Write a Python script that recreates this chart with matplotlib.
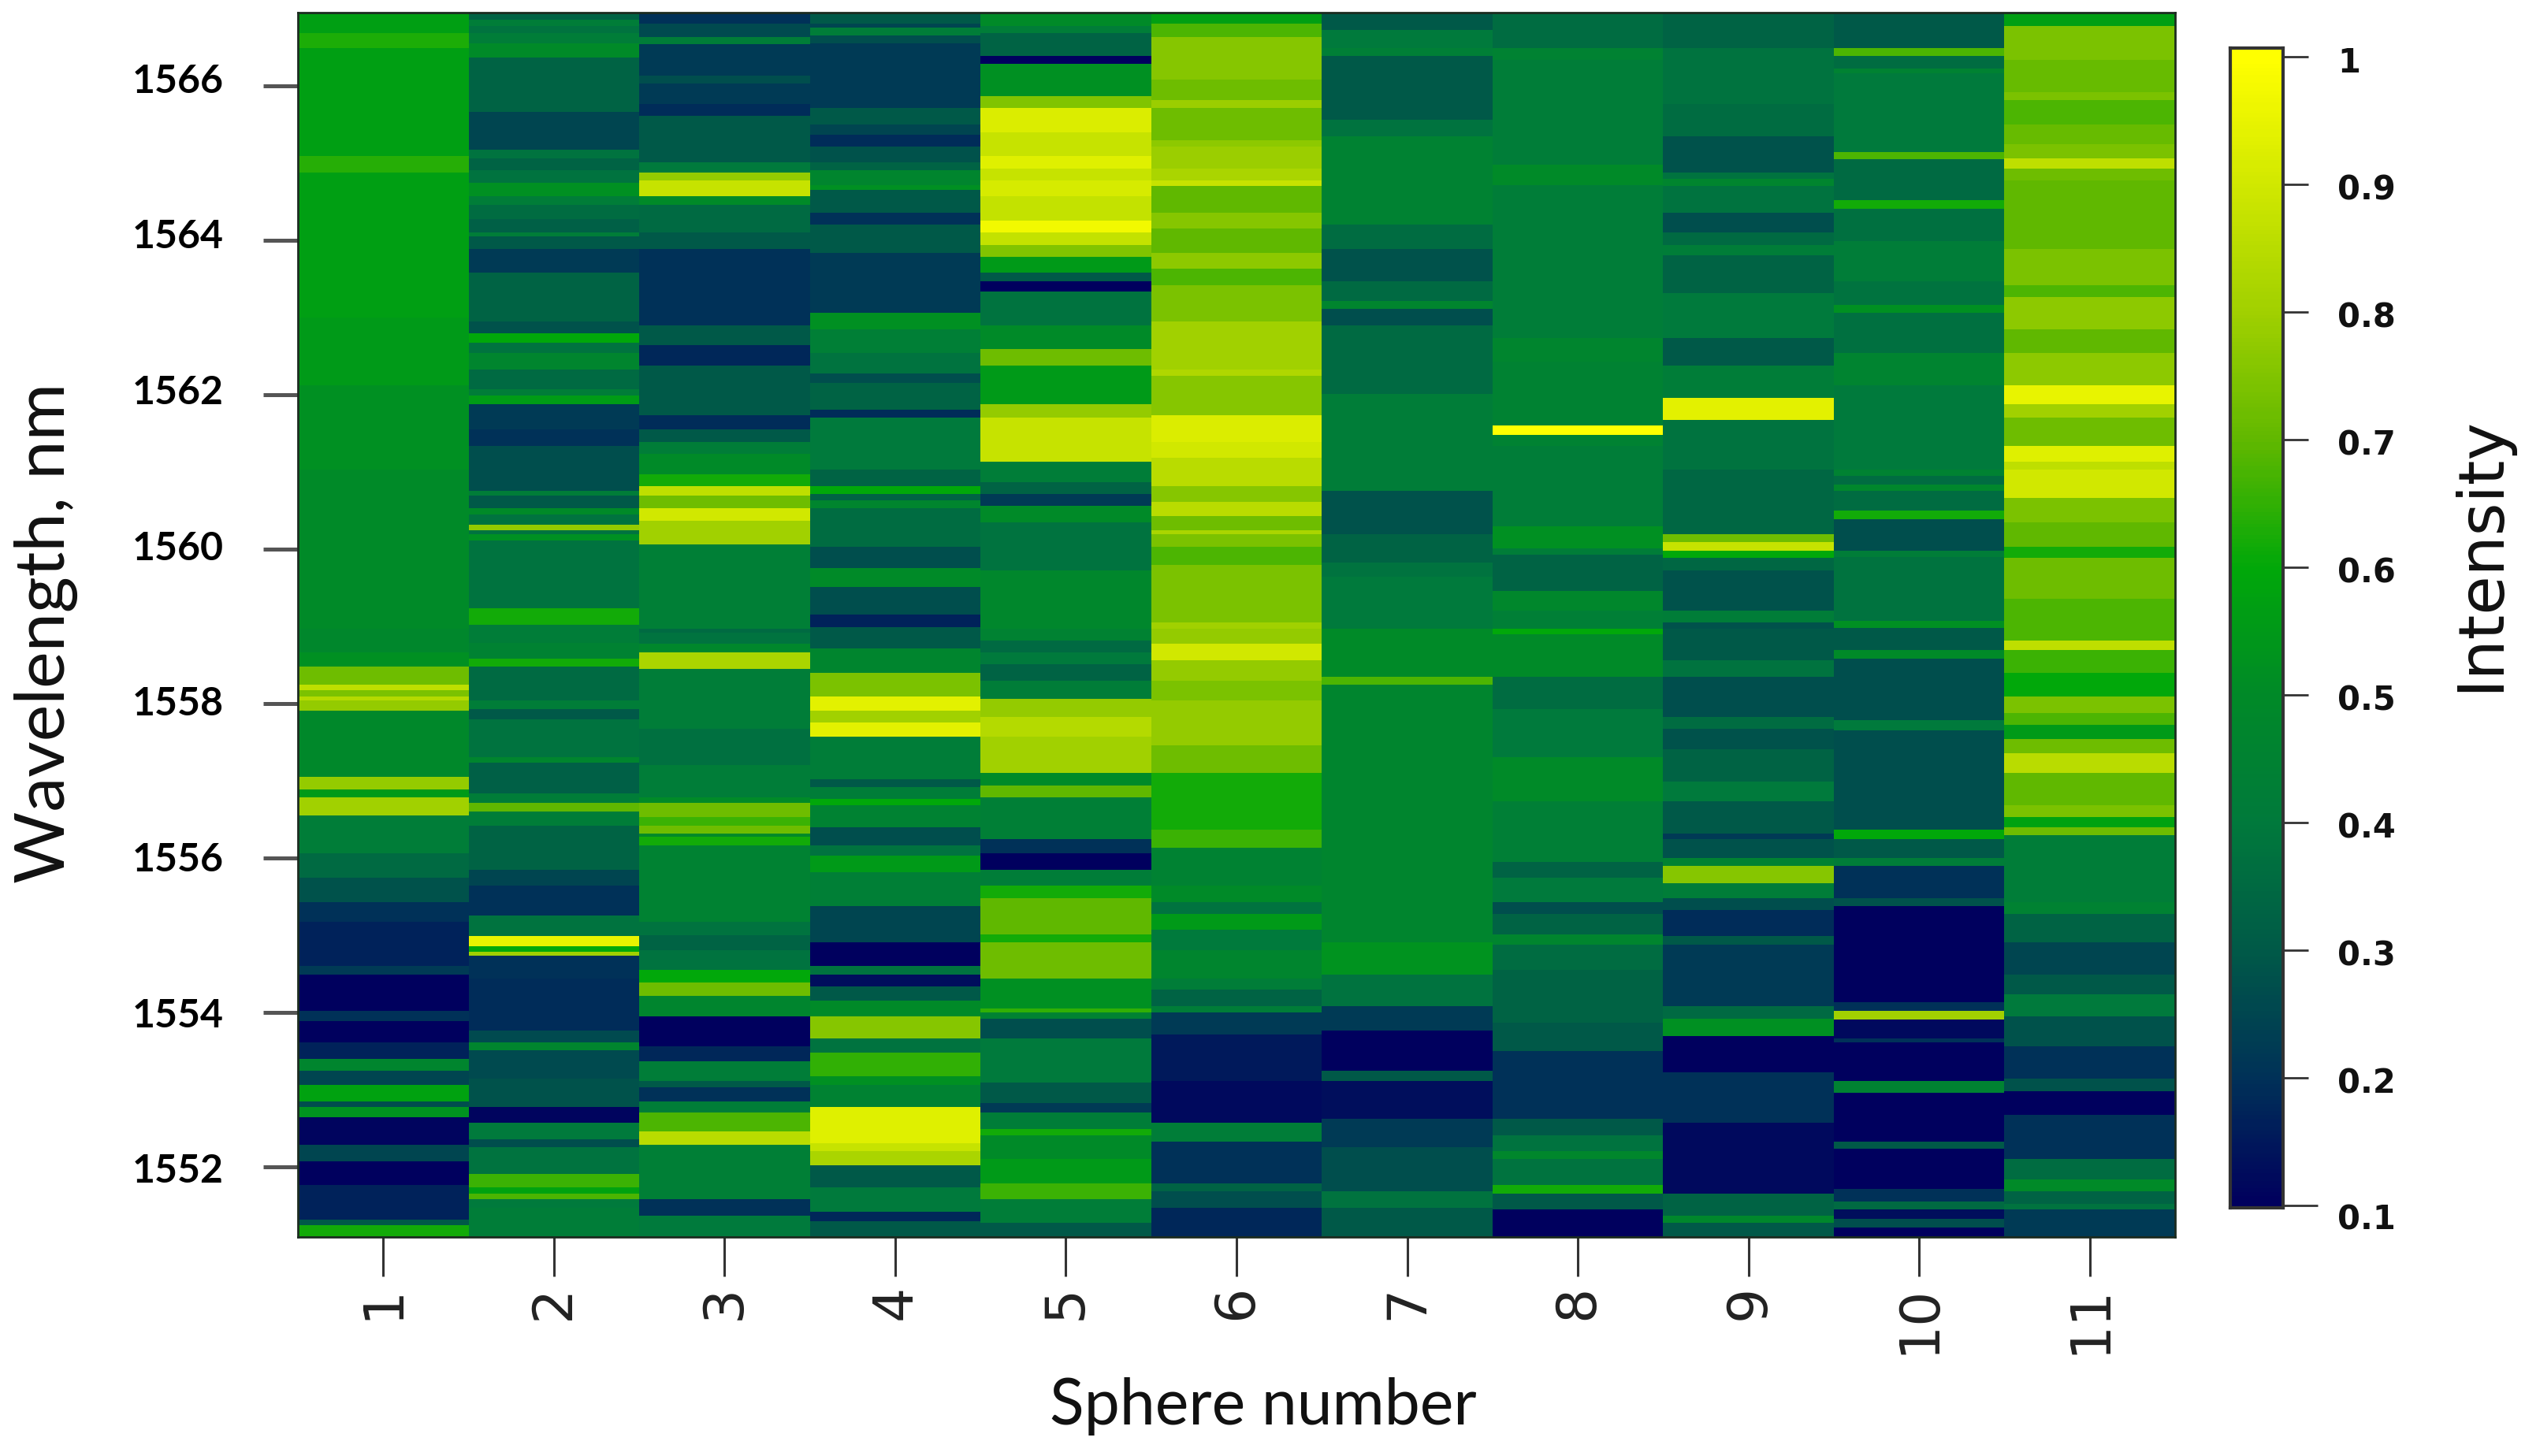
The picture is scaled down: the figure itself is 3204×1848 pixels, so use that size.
import numpy as np
from matplotlib import pyplot as plt
from matplotlib.colors import LinearSegmentedColormap, Normalize
from matplotlib.transforms import ScaledTranslation

# each sphere: (wavelength where the band starts going down, intensity)
s1 = [(1566.95, .57), (1566.68, .63), (1566.49, .57), (1565.09, .64), (1564.88, .57), (1563.0, .55), (1562.12, .52),
      (1561.03, .50), (1558.97, .48), (1558.66, .52), (1558.48, .72), (1558.24, .86), (1558.17, .74), (1558.09, .84),
      (1558.04, .78), (1557.91, .49), (1557.05, .78), (1556.89, .55), (1556.79, .8), (1556.55, .42), (1556.06, .35),
      (1555.74, .28), (1555.43, .2), (1555.17, .17), (1554.60, .22), (1554.49, .1), (1554.02, .2), (1553.89, .1),
      (1553.61, .17), (1553.40, .47), (1553.24, .25), (1553.06, .58), (1552.85, .27), (1552.77, .53), (1552.64, .11),
      (1552.28, .25), (1552.07, .1), (1551.76, .17), (1551.31, .3), (1551.24, .62)]
s2 = [(1566.95, .33), (1566.86, .42), (1566.78, .38), (1566.68, .42), (1566.55, .5), (1566.37, .33), (1565.66, .25),
      (1565.17, .38), (1565.06, .33), (1564.91, .38), (1564.75, .52), (1564.57, .42), (1564.46, .36), (1564.28, .32),
      (1564.10, .42), (1564.05, .3), (1563.89, .22), (1563.58, .33), (1562.95, .28), (1562.80, .6), (1562.67, .38),
      (1562.54, .47), (1562.33, .35), (1562.07, .42), (1561.99, .56), (1561.88, .22), (1561.55, .2), (1561.34, .27),
      (1560.76, .42), (1560.69, .3), (1560.53, .5), (1560.45, .38), (1560.32, .78), (1560.24, .38), (1560.19, .52),
      (1560.11, .38), (1559.23, .62), (1559.02, .42), (1558.79, .45), (1558.58, .62), (1558.48, .35), (1558.04, .42),
      (1557.93, .3), (1557.80, .38), (1557.31, .47), (1557.23, .32), (1556.84, .42), (1556.71, .7), (1556.60, .42),
      (1556.42, .33), (1555.85, .25), (1555.64, .2), (1555.25, .38), (1554.99, .95), (1554.86, .6), (1554.78, .8),
      (1554.73, .2), (1554.44, .19), (1553.76, .26), (1553.61, .47), (1553.51, .26), (1553.14, .28), (1552.77, .11),
      (1552.57, .4), (1552.36, .27), (1552.25, .38), (1551.91, .66), (1551.73, .58), (1551.65, .68), (1551.58, .4),
      (1551.47, .42)]
s3 = [(1566.95, .2), (1566.81, .26), (1566.63, .42), (1566.54, .22), (1566.13, .27), (1566.03, .22), (1565.77, .19),
      (1565.61, .3), (1565.01, .4), (1564.88, .78), (1564.78, .88), (1564.57, .5), (1564.46, .35), (1564.10, .3),
      (1563.89, .2), (1562.90, .3), (1562.64, .18), (1562.38, .3), (1561.73, .19), (1561.55, .3), (1561.39, .42),
      (1561.23, .5), (1560.97, .62), (1560.82, .86), (1560.69, .72), (1560.53, .9), (1560.37, .8), (1560.06, .43),
      (1558.97, .35), (1558.92, .38), (1558.77, .48), (1558.66, .82), (1558.45, .42), (1557.67, .37), (1557.20, .42),
      (1556.79, .5), (1556.71, .72), (1556.53, .66), (1556.42, .72), (1556.32, .5), (1556.27, .62), (1556.16, .45),
      (1555.17, .38), (1555.0, .33), (1554.81, .38), (1554.55, .6), (1554.39, .72), (1554.21, .47), (1553.95, .1),
      (1553.56, .18), (1553.37, .42), (1553.11, .3), (1553.03, .2), (1552.85, .42), (1552.70, .68), (1552.46, .85),
      (1552.28, .43), (1551.58, .2), (1551.37, .4)]
s4 = [(1566.95, .3), (1566.81, .25), (1566.76, .42), (1566.65, .27), (1566.55, .22), (1565.71, .3), (1565.50, .25),
      (1565.37, .19), (1565.22, .28), (1565.01, .33), (1564.91, .47), (1564.72, .52), (1564.65, .3), (1564.36, .2),
      (1564.20, .3), (1563.84, .22), (1563.06, .52), (1562.85, .43), (1562.54, .38), (1562.28, .27), (1562.15, .33),
      (1561.81, .19), (1561.70, .4), (1561.03, .33), (1560.82, .6), (1560.71, .33), (1560.63, .47), (1560.53, .36),
      (1560.03, .27), (1559.75, .5), (1559.51, .27), (1559.15, .17), (1558.99, .3), (1558.71, .47), (1558.40, .74),
      (1558.09, .94), (1557.91, .8), (1557.75, .94), (1557.57, .42), (1557.02, .3), (1556.92, .42), (1556.76, .6),
      (1556.68, .45), (1556.40, .27), (1556.16, .38), (1556.03, .55), (1555.82, .43), (1555.38, .25), (1554.91, .1),
      (1554.60, .38), (1554.49, .13), (1554.34, .3), (1554.15, .5), (1553.95, .76), (1553.66, .38), (1553.48, .65),
      (1553.17, .52), (1553.06, .45), (1552.77, .93), (1552.30, .88), (1552.20, .82), (1552.02, .3), (1551.73, .4),
      (1551.42, .18), (1551.29, .3)]
s5 = [(1566.95, .5), (1566.78, .42), (1566.68, .33), (1566.39, .1), (1566.29, .52), (1565.87, .75), (1565.71, .92),
      (1565.40, .88), (1565.09, .93), (1564.93, .88), (1564.78, .91), (1564.57, .87), (1564.26, .97), (1564.10, .87),
      (1563.94, .75), (1563.79, .55), (1563.58, .3), (1563.47, .1), (1563.34, .38), (1562.90, .5), (1562.59, .72),
      (1562.38, .55), (1561.88, .78), (1561.70, .88), (1561.13, .42), (1560.87, .33), (1560.71, .22), (1560.56, .5),
      (1560.35, .38), (1559.72, .48), (1558.97, .45), (1558.82, .35), (1558.66, .4), (1558.51, .33), (1558.30, .42),
      (1558.06, .78), (1557.83, .84), (1557.57, .8), (1557.10, .5), (1556.94, .7), (1556.79, .43), (1556.24, .2),
      (1556.06, .1), (1555.85, .42), (1555.64, .62), (1555.48, .7), (1555.01, .62), (1554.91, .72), (1554.44, .52),
      (1554.05, .65), (1554.0, .45), (1553.92, .27), (1553.66, .4), (1553.09, .3), (1552.83, .22), (1552.70, .42),
      (1552.49, .62), (1552.41, .5), (1552.10, .55), (1551.78, .66), (1551.58, .42), (1551.27, .3)]
s6 = [(1566.95, .57), (1566.81, .68), (1566.63, .76), (1566.08, .72), (1565.82, .79), (1565.71, .72), (1565.30, .77),
      (1565.22, .79), (1564.93, .82), (1564.78, .88), (1564.70, .7), (1564.36, .76), (1564.15, .7), (1563.84, .77),
      (1563.63, .68), (1563.42, .74), (1562.95, .8), (1562.33, .83), (1562.25, .76), (1561.73, .92), (1561.39, .9),
      (1561.18, .85), (1560.82, .76), (1560.61, .85), (1560.43, .72), (1560.24, .82), (1560.19, .74), (1560.03, .68),
      (1559.80, .74), (1559.05, .8), (1558.97, .78), (1558.77, .9), (1558.56, .78), (1558.30, .74), (1558.04, .78),
      (1557.46, .72), (1557.10, .62), (1556.37, .66), (1556.13, .45), (1555.64, .5), (1555.43, .38), (1555.27, .55),
      (1555.07, .4), (1554.81, .47), (1554.44, .42), (1554.29, .33), (1554.08, .42), (1554.0, .22), (1553.71, .15),
      (1553.11, .12), (1552.57, .42), (1552.33, .2), (1551.78, .33), (1551.68, .27), (1551.47, .18)]
s7 = [(1566.95, .3), (1566.73, .4), (1566.49, .43), (1566.39, .3), (1565.56, .38), (1565.35, .45), (1564.20, .36),
      (1563.89, .28), (1563.47, .35), (1563.21, .47), (1563.11, .27), (1562.90, .35), (1562.01, .42), (1560.76, .28),
      (1560.19, .33), (1559.83, .38), (1559.64, .4), (1558.97, .5), (1558.35, .68), (1558.24, .47), (1554.91, .53),
      (1554.49, .38), (1554.08, .22), (1553.76, .1), (1553.24, .3), (1553.11, .13), (1552.62, .22), (1552.25, .27),
      (1551.68, .38), (1551.47, .3)]
s8 = [(1566.95, .36), (1566.49, .45), (1566.34, .42), (1564.98, .5), (1564.72, .42), (1562.74, .47), (1562.43, .45),
      (1561.60, 1.0), (1561.48, .45), (1561.34, .42), (1560.30, .52), (1560.01, .42), (1559.93, .33), (1559.46, .48),
      (1559.20, .43), (1558.97, .6), (1558.90, .5), (1558.35, .36), (1557.93, .4), (1557.31, .5), (1556.73, .43),
      (1555.95, .33), (1555.74, .4), (1555.43, .27), (1555.27, .33), (1555.01, .47), (1554.88, .36), (1554.55, .33),
      (1553.87, .3), (1553.50, .2), (1552.62, .3), (1552.41, .38), (1552.20, .48), (1552.10, .38), (1551.76, .62),
      (1551.65, .3), (1551.45, .1)]
s9 = [(1566.95, .33), (1566.49, .38), (1565.77, .36), (1565.35, .28), (1564.88, .38), (1564.80, .47), (1564.70, .38),
      (1564.36, .27), (1564.10, .35), (1563.94, .42), (1563.81, .33), (1563.32, .4), (1562.74, .3), (1562.38, .42),
      (1561.96, .94), (1561.67, .38), (1561.03, .34), (1560.19, .72), (1560.09, .88), (1559.98, .6), (1559.89, .34),
      (1559.72, .28), (1559.20, .42), (1559.05, .28), (1558.97, .3), (1558.56, .38), (1558.35, .27), (1557.83, .36),
      (1557.67, .28), (1557.41, .33), (1556.99, .4), (1556.73, .3), (1556.32, .22), (1556.24, .28), (1556.0, .45),
      (1555.90, .76), (1555.67, .42), (1555.48, .27), (1555.33, .19), (1554.99, .3), (1554.88, .22), (1554.08, .35),
      (1553.92, .52), (1553.69, .1), (1553.22, .2), (1552.57, .12), (1551.65, .33), (1551.37, .48), (1551.27, .3)]
s10 = [(1566.95, .3), (1566.49, .68), (1566.39, .36), (1566.23, .45), (1566.16, .4), (1565.14, .68), (1565.05, .35),
       (1564.52, .62), (1564.41, .37), (1563.99, .42), (1563.47, .38), (1563.16, .52), (1563.06, .37), (1562.54, .46),
       (1562.12, .4), (1561.03, .45), (1560.95, .36), (1560.84, .48), (1560.76, .36), (1560.50, .62), (1560.39, .27),
       (1559.98, .42), (1559.90, .38), (1559.07, .52), (1558.98, .3), (1558.69, .5), (1558.58, .27), (1557.78, .4),
       (1557.65, .27), (1556.37, .6), (1556.24, .3), (1556.0, .42), (1555.90, .2), (1555.48, .28), (1555.38, .1),
       (1554.13, .2), (1554.02, .8), (1553.91, .12), (1553.66, .2), (1553.61, .08), (1553.11, .45), (1552.96, .1),
       (1552.33, .3), (1552.23, .1), (1551.71, .2), (1551.55, .35), (1551.45, .13), (1551.32, .27), (1551.21, .1)]
s11 = [(1566.95, .57), (1566.78, .74), (1566.34, .71), (1565.92, .74), (1565.82, .68), (1565.50, .71), (1565.25, .74),
       (1565.06, .86), (1564.93, .72), (1564.78, .7), (1563.89, .74), (1563.42, .68), (1563.27, .77), (1562.85, .7),
       (1562.54, .77), (1562.12, .95), (1561.88, .8), (1561.70, .72), (1561.34, .93), (1561.13, .86), (1561.03, .9),
       (1560.66, .74), (1560.35, .7), (1560.03, .62), (1559.89, .72), (1559.36, .68), (1558.82, .86), (1558.69, .66),
       (1558.40, .6), (1558.09, .74), (1557.88, .68), (1557.72, .55), (1557.54, .72), (1557.36, .85), (1557.10, .7),
       (1556.68, .74), (1556.53, .58), (1556.40, .72), (1556.29, .42), (1555.43, .45), (1555.27, .33), (1554.91, .25),
       (1554.49, .3), (1554.23, .4), (1553.95, .28), (1553.56, .2), (1553.14, .28), (1552.98, .1), (1552.67, .2),
       (1552.10, .36), (1551.84, .5), (1551.68, .33), (1551.52, .38), (1551.45, .22)]
spheres = [s1, s2, s3, s4, s5, s6, s7, s8, s9, s10, s11]

wl_bottom = 1551.09
wl_top = 1566.95
y_ticks = [1552, 1554, 1556, 1558, 1560, 1562, 1564, 1566]
bar_ticks = [0.1, 0.2, 0.3, 0.4, 0.5, 0.6, 0.7, 0.8, 0.9, 1]
bar_labels = ['0.1', '0.2', '0.3', '0.4', '0.5', '0.6', '0.7', '0.8', '0.9', '1']

ramp_pos = [0.1, 0.2, 0.3, 0.4, 0.5, 0.6, 0.7, 0.8, 0.9, 1.0]
ramp_col = ['#00005e', '#003258', '#005a48', '#007a3c', '#008a28', '#00a80a', '#60b800', '#a0d000', '#d0e800', '#ffff00']
cmap = LinearSegmentedColormap.from_list('intensity', [((p - 0.1) / 0.9, c) for p, c in zip(ramp_pos, ramp_col)])
norm = Normalize(0.1, 1.0)

W, H = 3204, 1848
fig = plt.figure(figsize=(W / 100, H / 100), dpi=100)


def px_axes(left, top, right, bottom):
    return fig.add_axes([left / W, 1 - bottom / H, (right - left) / W, (bottom - top) / H])


ax = px_axes(378, 16, 2760, 1570)
for i, col in enumerate(spheres, 1):
    edges = [c[0] for c in col] + [wl_bottom]
    vals = np.array([c[1] for c in col])[:, None]
    ax.pcolormesh([i - 0.5, i + 0.5], edges, vals, cmap=cmap, norm=norm, shading='flat', antialiased=False)
ax.set_xlim(0.5, 11.5)
ax.set_ylim(wl_bottom, wl_top)

ax.set_xticks(range(1, 12))
ax.set_xticklabels(range(1, 12), rotation=90, fontsize=50, family='DejaVu Sans', color='#222222')
ax.tick_params(axis='x', length=36, width=2.2, color='#333333', pad=8)
ax.set_yticks(y_ticks)
ax.set_yticklabels(y_ticks, fontsize=36, family='Lato', fontweight='bold', color='black')
ax.tick_params(axis='y', length=32, width=3.6, color='#555555', pad=36)
# the labels sit a bit off their ticks in the original
for v, lab in zip(y_ticks, ax.get_yticklabels()):
    dy = (-2 + (v - 1552) * 12 / 14) / 100
    lab.set_transform(lab.get_transform() + ScaledTranslation(0, dy, fig.dpi_scale_trans))
for sp in ax.spines.values():
    sp.set_linewidth(2)
    sp.set_color('#1c2c20')

cax = px_axes(2830, 61, 2897, 1533)
grad = np.linspace(0.1, 1.007, 300)[:, None]
cax.imshow(grad, origin='lower', aspect='auto', cmap=cmap, norm=norm, extent=[0, 1, 0.098, 1.007])
cax.set_ylim(0.098, 1.007)
cax.set_xticks([])
cax.yaxis.tick_right()
cax.set_yticks(bar_ticks)
cax.set_yticklabels(bar_labels, fontsize=30, fontweight='bold', family='DejaVu Sans', color='#111111')
cax.tick_params(axis='y', length=23, width=2, color='#333333', pad=27)
cax.yaxis.get_major_ticks()[0].tick2line.set_markersize(32)
for v, lab in zip(bar_ticks, cax.get_yticklabels()):
    dy = -14 / 100 if v == 0.1 else -3 / 100
    lab.set_transform(lab.get_transform() + ScaledTranslation(0, dy, fig.dpi_scale_trans))
for sp in cax.spines.values():
    sp.set_linewidth(3)
    sp.set_color('#333333')

fig.text(1603 / W, 1 - 1785 / H, 'Sphere number', family='Lato', fontsize=58, ha='center', va='center', color='#111111')
fig.text(58 / W, 1 - 803 / H, 'Wavelength, nm', family='Lato', fontsize=63.5, rotation=90, ha='center', va='center', color='#111111')
fig.text(3148 / W, 1 - 703 / H, 'Intensity', family='DejaVu Sans', fontsize=58, rotation=90, ha='center', va='center', color='#111111')

fig.savefig('out.png', dpi=100)
